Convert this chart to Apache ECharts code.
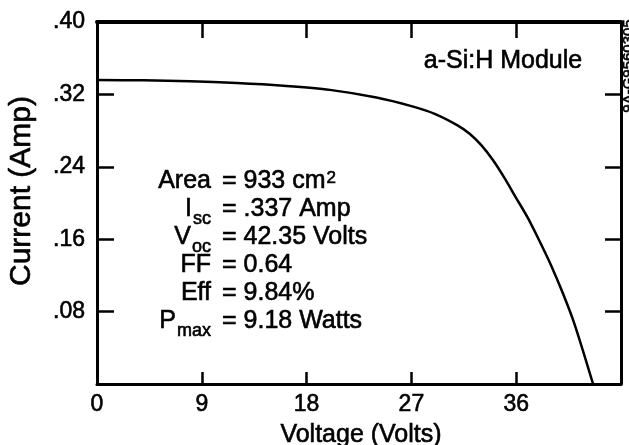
<!DOCTYPE html>
<html>
<head>
<meta charset="utf-8">
<script src="https://cdn.jsdelivr.net/npm/echarts@6/dist/echarts.min.js"></script>
<style>
  html, body { margin: 0; padding: 0; background: #fff; }
  #chart { width: 629px; height: 445px; }
</style>
</head>
<body>
<div id="chart"></div>
<script>
// ---- data ----
const voltage = [0, 4, 8, 12, 16, 20, 24, 27, 29, 31, 32, 33, 34, 35, 36, 37, 38, 39, 40, 41, 42.6];
const current = [0.336, 0.3355, 0.3345, 0.3325, 0.3295, 0.325, 0.3165, 0.307, 0.2985, 0.2855, 0.2765, 0.264, 0.2475, 0.2275, 0.2055, 0.1835, 0.158, 0.131, 0.1005, 0.0665, 0.0];

const xTickLabels = ['0', '9', '18', '27', '36', ''];
const yTickLabels = ['', '.08', '.16', '.24', '.32', '.40'];

const paramLabels = ['Area', 'I', 'V', 'FF', 'Eff', 'P'];
const paramSubs = ['', 'sc', 'oc', '', '', 'max'];
const paramValues = ['933 cm', '.337 Amp', '42.35 Volts', '0.64', '9.84%', '9.18 Watts'];
const paramSups = ['2', '', '', '', '', ''];

const moduleLabel = 'a-Si:H Module';
const xName = 'Voltage (Volts)';
const yName = 'Current (Amp)';
const figCode = '9A-G9560305';

// ---- helpers ----
const FONT = '"Liberation Sans", Arial, Helvetica, sans-serif';
const cv = document.createElement('canvas').getContext('2d');
function tw(str, size) { cv.font = size + 'px ' + FONT; return cv.measureText(str).width; }
function midY(baseline, size) { return baseline - 0.3465 * size; }
const BW = 0.6; // slight stroke to mimic the heavy scanned type

function txt(x, y, text, size, align, extra) {
  return Object.assign({ type: 'text', x: x, y: y,
    style: { text: text, fontSize: size, fontFamily: FONT, fill: '#000', align: align, verticalAlign: 'middle',
      stroke: '#000', lineWidth: BW } }, extra || {});
}

const chart = echarts.init(document.getElementById('chart'), null, { renderer: 'canvas' });

const mainSize = 25, subSize = 18, supSize = 17;
const labelRight = 211, eqX = 222;
const graphics = [];
paramLabels.forEach((lab, i) => {
  const base = 190 + 28 * i;
  let right = labelRight;
  if (paramSubs[i]) {
    graphics.push(txt(labelRight, midY(base + 7, subSize), paramSubs[i], subSize, 'right'));
    right = labelRight - tw(paramSubs[i], subSize) - 1;
  }
  graphics.push(txt(right, midY(base, mainSize), lab, mainSize, 'right'));
  const valText = '= ' + paramValues[i];
  graphics.push(txt(eqX, midY(base, mainSize), valText, mainSize, 'left'));
  if (paramSups[i]) {
    graphics.push(txt(eqX + tw(valText, mainSize) + 1, midY(base - 6, supSize), paramSups[i], supSize, 'left'));
  }
});
graphics.push(txt(503, midY(70, 25), moduleLabel, 25, 'center'));
graphics.push(txt(361, midY(444, 25), xName, 25, 'center'));
graphics.push(txt(22, 191, yName, 30, 'center', { rotation: Math.PI / 2 }));
graphics.push(txt(629, 66, figCode, 15, 'center', { rotation: Math.PI / 2 }));

const axisLine = (w) => ({ show: true, onZero: false, lineStyle: { color: '#000', width: w } });
const tick = (len) => ({ show: true, inside: true, length: len, lineStyle: { color: '#000', width: 2.5 } });
const labelStyle = { color: '#000', fontSize: 23, fontFamily: FONT, textBorderColor: '#000', textBorderWidth: BW };

const option = {
  backgroundColor: '#fff',
  animation: false,
  grid: { left: 97, right: 8, top: 22, bottom: 61, containLabel: false },
  xAxis: [
    { type: 'value', min: 0, max: 45, interval: 9, position: 'bottom',
      axisLine: axisLine(3), axisTick: tick(12), splitLine: { show: false },
      axisLabel: Object.assign({ margin: 9, formatter: (v) => xTickLabels[Math.round(v / 9)] }, labelStyle) },
    { type: 'value', min: 0, max: 45, interval: 9, position: 'top',
      axisLine: axisLine(4), axisTick: tick(16), splitLine: { show: false },
      axisLabel: { show: false } }
  ],
  yAxis: [
    { type: 'value', min: 0, max: 0.4, interval: 0.08, position: 'left',
      axisLine: axisLine(3), axisTick: tick(17), splitLine: { show: false },
      axisLabel: Object.assign({ margin: 12, formatter: (v) => yTickLabels[Math.round(v / 0.08)] }, labelStyle) },
    { type: 'value', min: 0, max: 0.4, interval: 0.08, position: 'right',
      axisLine: axisLine(3), axisTick: tick(16), splitLine: { show: false },
      axisLabel: { show: false } }
  ],
  series: [{
    type: 'line',
    xAxisIndex: 0, yAxisIndex: 0,
    data: voltage.map((v, i) => [v, current[i]]),
    smooth: 0.3,
    symbol: 'none',
    lineStyle: { color: '#000', width: 2.5 }
  }],
  graphic: graphics
};
chart.setOption(option);
</script>
</body>
</html>
